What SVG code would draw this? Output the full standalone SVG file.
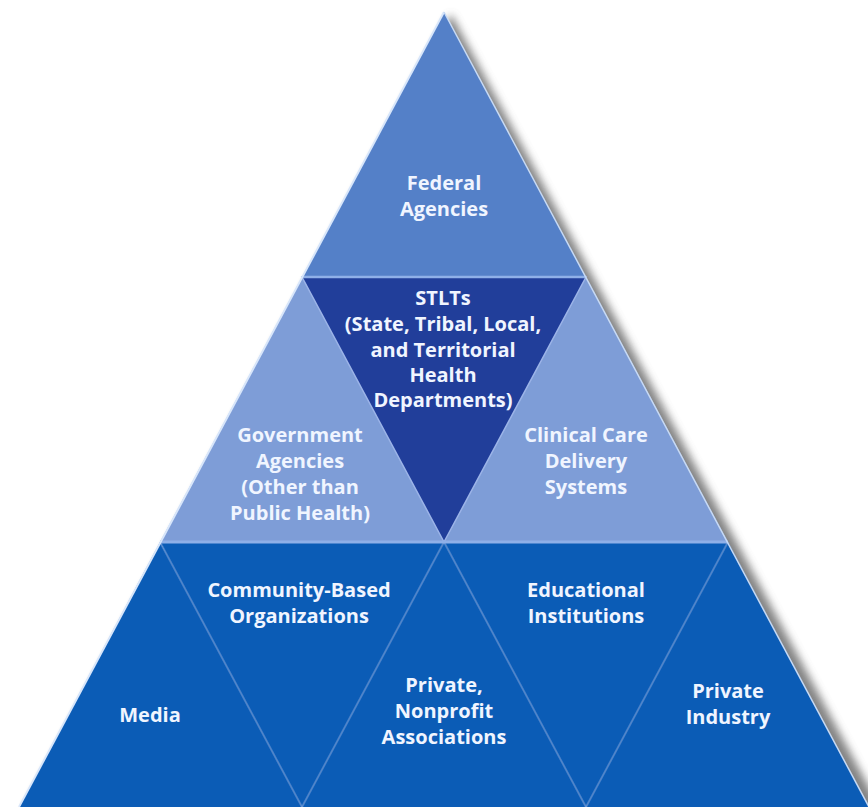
<svg xmlns="http://www.w3.org/2000/svg" width="868" height="807" viewBox="0 0 868 807">
<style>
.lbl{font-family:"Open Sans","Liberation Sans",sans-serif;font-weight:700;font-size:20px;fill:#f0f5ff;text-anchor:middle}
.inner{stroke:#8fb0e8;stroke-width:2;stroke-opacity:0.45;fill:none}
</style>
<defs>
<filter id="sh" x="-10%" y="-10%" width="120%" height="120%">
<feGaussianBlur stdDeviation="4"/>
</filter>
</defs>
<rect width="868" height="807" fill="#ffffff"/>
<polygon points="451,14 882,811 25,811" fill="#5a5a5a" opacity="0.75" filter="url(#sh)"/>
<g id="federal">
<polygon points="444,12 586,277 302,277" fill="#5480c8"/>
<text class="lbl" x="444" y="190">Federal</text>
<text class="lbl" x="444" y="216">Agencies</text>
</g>
<g id="government">
<polygon points="302,277 444,542 160,542" fill="#7e9dd7"/>
<text class="lbl" x="300" y="442">Government</text>
<text class="lbl" x="300" y="468">Agencies</text>
<text class="lbl" x="300" y="494">(Other than</text>
<text class="lbl" x="300" y="520">Public Health)</text>
</g>
<g id="clinical">
<polygon points="586,277 728,542 444,542" fill="#7e9dd7"/>
<text class="lbl" x="586" y="442">Clinical Care</text>
<text class="lbl" x="586" y="468">Delivery</text>
<text class="lbl" x="586" y="494">Systems</text>
</g>
<g id="stlt">
<polygon points="302,277 586,277 444,542" fill="#213e9a" stroke="#9cb4e8" stroke-width="1.5"/>
<text class="lbl" x="443" y="305">STLTs</text>
<text class="lbl" x="443" y="331">(State, Tribal, Local,</text>
<text class="lbl" x="443" y="357">and Territorial</text>
<text class="lbl" x="443" y="382">Health</text>
<text class="lbl" x="443" y="407">Departments)</text>
</g>
<g id="media">
<polygon points="160,542 302,807 19,807" fill="#0b5cb6"/>
<text class="lbl" x="150" y="722">Media</text>
</g>
<g id="community">
<polygon points="160,542 444,542 302,807" fill="#0b5cb6"/>
<text class="lbl" x="299" y="597">Community-Based</text>
<text class="lbl" x="299" y="623">Organizations</text>
</g>
<g id="nonprofit">
<polygon points="444,542 586,807 302,807" fill="#0b5cb6"/>
<text class="lbl" x="444" y="692">Private,</text>
<text class="lbl" x="444" y="718">Nonprofit</text>
<text class="lbl" x="444" y="744">Associations</text>
</g>
<g id="educational">
<polygon points="444,542 728,542 586,807" fill="#0b5cb6"/>
<text class="lbl" x="586" y="597">Educational</text>
<text class="lbl" x="586" y="623">Institutions</text>
</g>
<g id="industry">
<polygon points="728,542 869,807 586,807" fill="#0b5cb6"/>
<text class="lbl" x="728" y="698">Private</text>
<text class="lbl" x="728" y="724">Industry</text>
</g>
<g id="connectors">
<line class="inner" x1="160" y1="542" x2="302" y2="807"/>
<line class="inner" x1="444" y1="542" x2="302" y2="807"/>
<line class="inner" x1="444" y1="542" x2="586" y2="807"/>
<line class="inner" x1="728" y1="542" x2="586" y2="807"/>
<line x1="302" y1="277" x2="586" y2="277" stroke="#8fb0e8" stroke-width="2.5"/>
<line x1="160" y1="542" x2="728" y2="542" stroke="#8fb0e8" stroke-width="3"/>
<line x1="444" y1="12" x2="19" y2="807" stroke="#d8e6fa" stroke-width="2"/>
<line x1="444" y1="12" x2="869" y2="807" stroke="#c8daf4" stroke-width="1.5"/>
</g>
</svg>
